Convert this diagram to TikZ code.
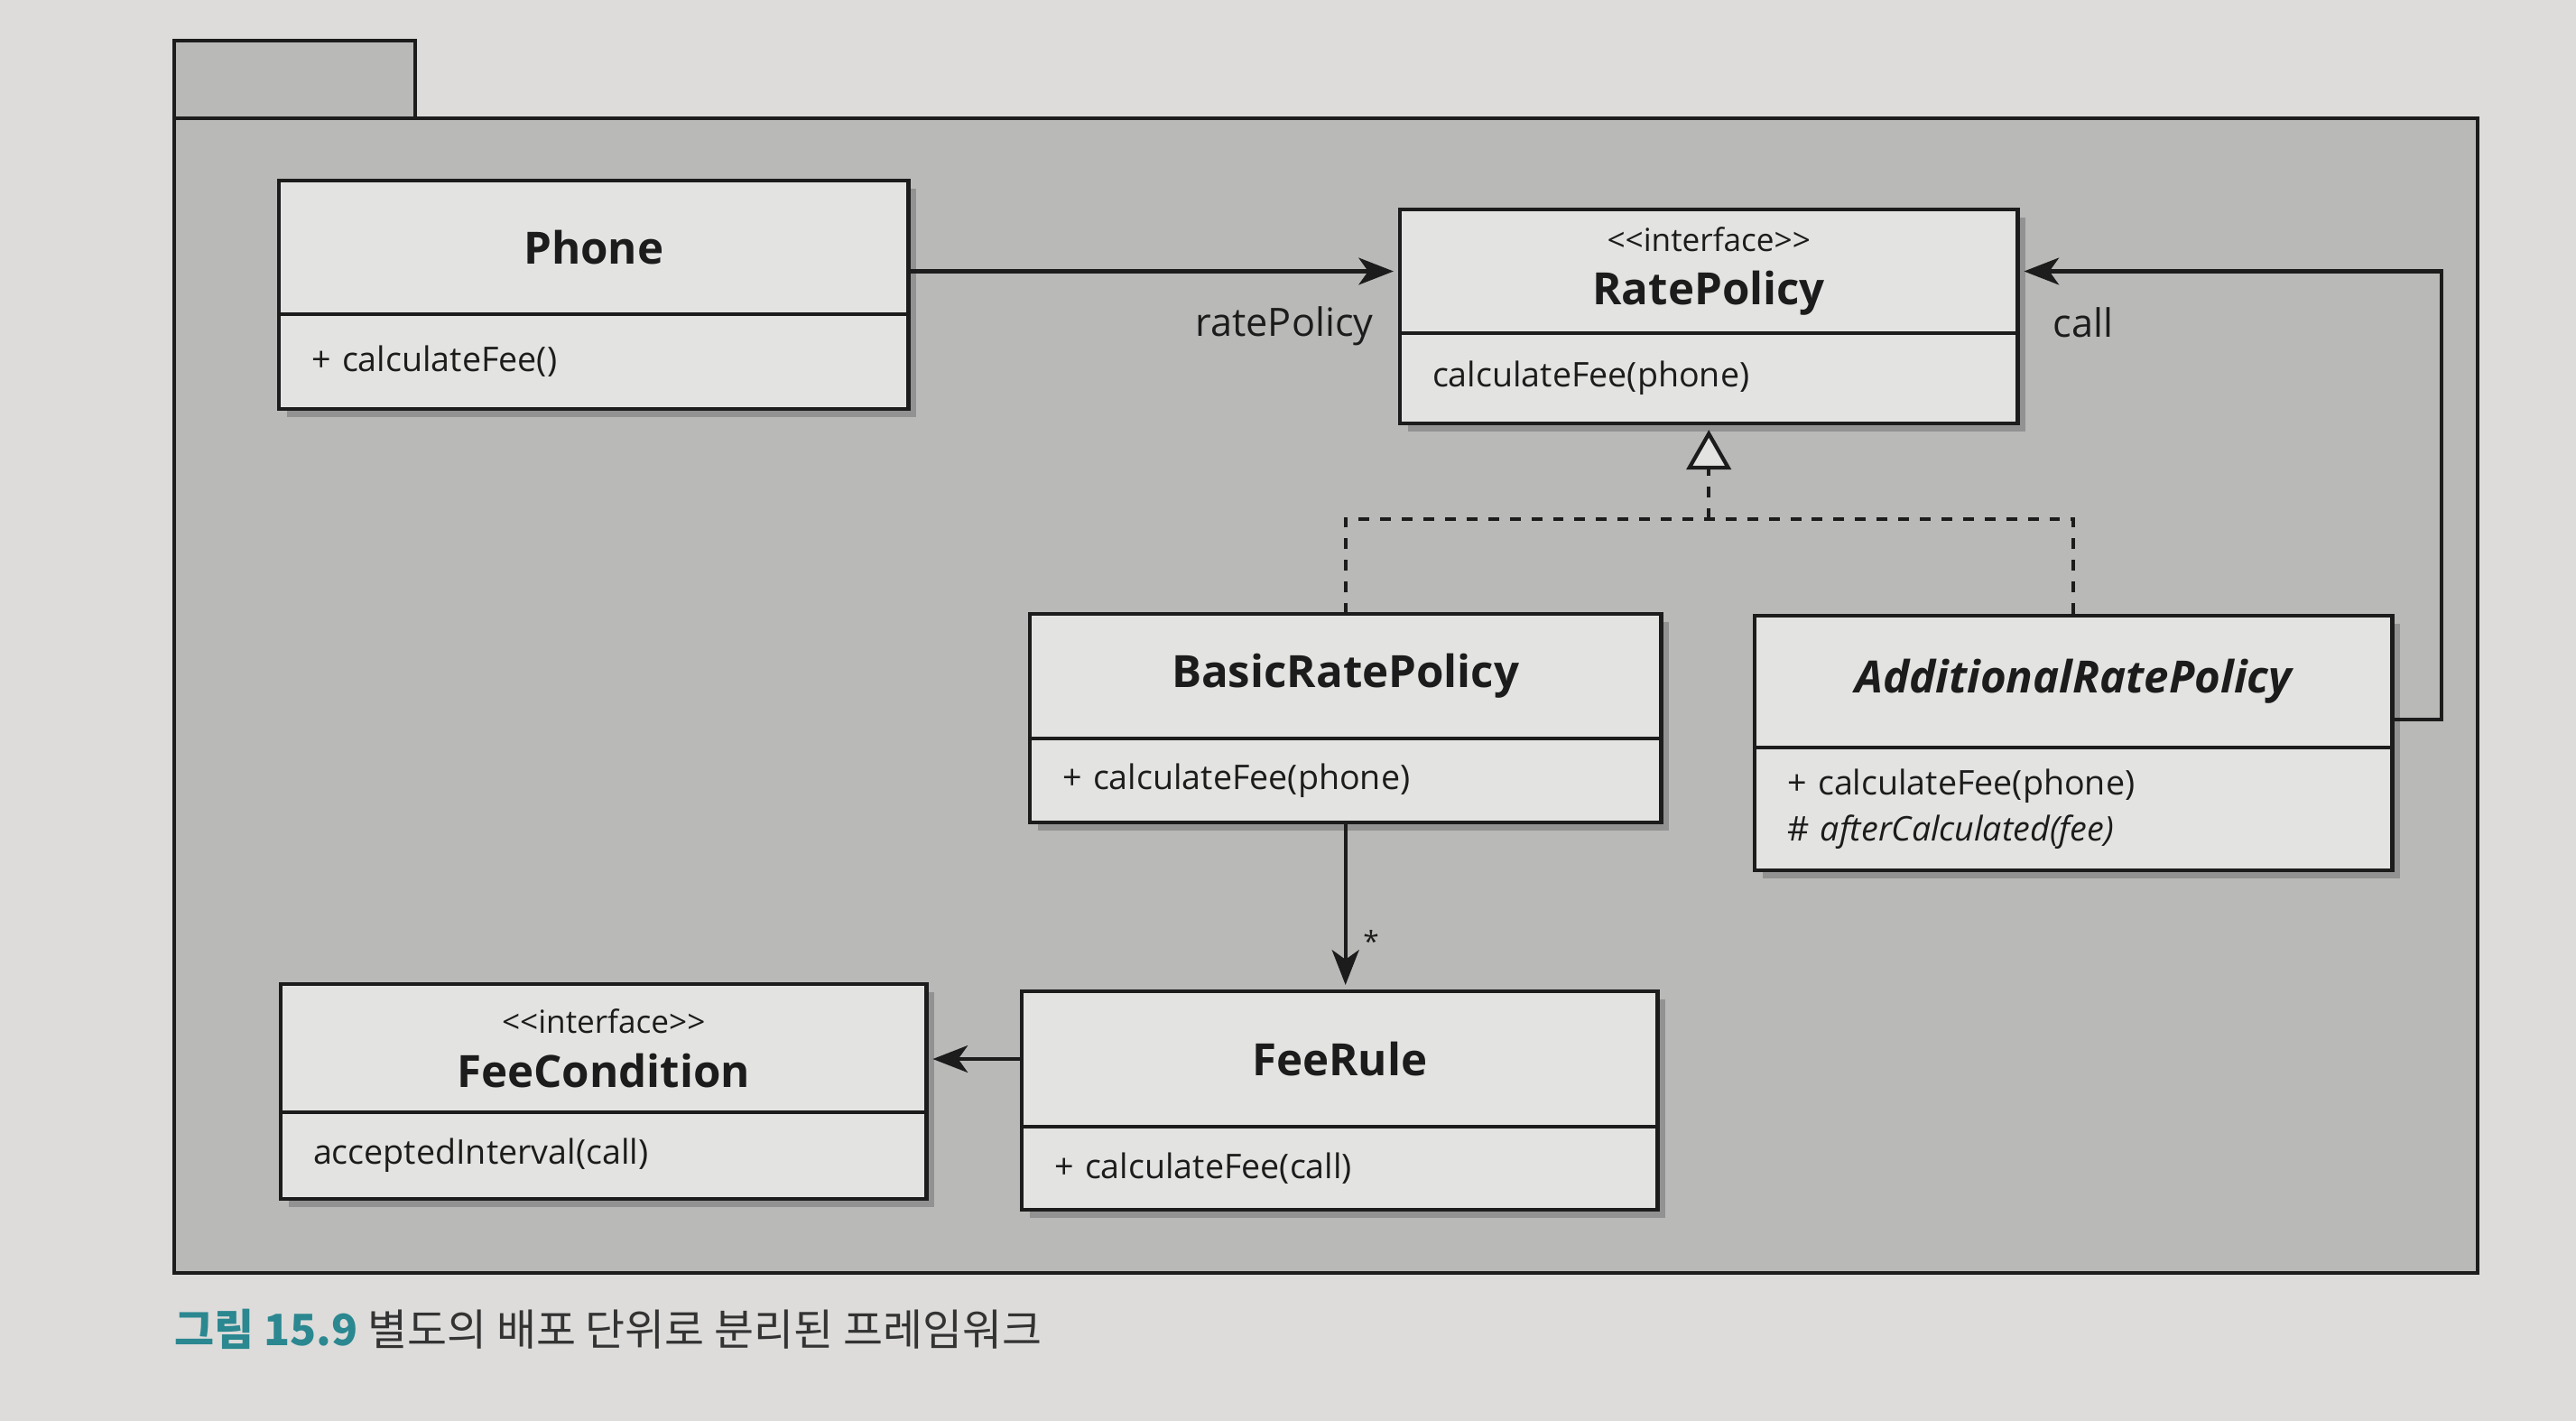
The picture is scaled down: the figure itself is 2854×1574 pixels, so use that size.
\documentclass[tikz,border=0pt]{standalone}
\usepackage{fontspec}
\newfontfamily\uifont{Open Sans}
\newfontfamily\krfont{Noto Sans CJK KR}
\usetikzlibrary{arrows.meta,shadows}
\definecolor{pagebg}{HTML}{DDDCDA}
\definecolor{pkgfill}{HTML}{B9B9B8}
\definecolor{boxfill}{HTML}{E3E3E1}
\definecolor{ink}{HTML}{1C1C1C}
\definecolor{capteal}{HTML}{2B8790}
\definecolor{captext}{HTML}{333333}
\newcommand\stereotxt[1]{{\uifont\mdseries\fontsize{10}{12}\selectfont #1}}
\tikzset{
  pkg/.style={draw=ink, fill=pkgfill, line width=1.1pt},
  boxbase/.style={draw=ink, fill=boxfill, line width=1.2pt, anchor=north west,
    outer sep=0pt, text=ink,
    drop shadow={shadow xshift=2.5pt, shadow yshift=-2.5pt, opacity=.35, fill=black!70}},
  cname/.style={boxbase, inner sep=0pt, align=center,
    font=\uifont\bfseries\fontsize{14}{17}\selectfont},
  cops/.style={boxbase, inner xsep=0.36cm, inner ysep=0pt, align=left,
    font=\uifont\fontsize{10.7}{14.5}\selectfont},
  assoc/.style={draw=ink, line width=1.2pt, -{Stealth[length=11pt, width=8.5pt, inset=3pt]}, shorten >=2pt},
  realize/.style={draw=ink, line width=1.2pt, dash pattern=on 3.4pt off 3.4pt},
  realtip/.style={draw=ink, line width=1.2pt, -{Triangle[open, length=12.5pt, width=14pt, fill=boxfill]}, shorten >=2pt},
  lbl/.style={text=ink, font=\uifont\fontsize{12.3}{14}\selectfont, inner sep=0pt},
}
\begin{document}
\begin{tikzpicture}[x=0.01cm, y=-0.01cm]
  \fill[pagebg] (0,0) rectangle (2854,1574);
  \useasboundingbox (0,0) rectangle (2854,1574);
  % package
  \draw[pkg] (193,45) rectangle (460,131);
  \draw[pkg] (193,131) rectangle (2745,1410);

  % Phone
  \node[cname, minimum width=6.97cm, minimum height=1.48cm] (phoneN) at (309,200) {Phone};
  \node[cops, text width=6.25cm, minimum height=1.05cm] (phoneO) at (phoneN.south west) {+ calculateFee()};

  % RatePolicy
  \node[cname, minimum width=6.84cm, minimum height=1.37cm] (ratepN) at (1551,232)
    {\stereotxt{<<interface>>}\\[0pt]RatePolicy};
  \node[cops, text width=6.12cm, minimum height=1.00cm] (ratepO) at (ratepN.south west) {calculateFee(phone)};

  % BasicRatePolicy
  \node[cname, minimum width=6.99cm, minimum height=1.38cm] (basicN) at (1141,680) {BasicRatePolicy};
  \node[cops, text width=6.27cm, minimum height=0.93cm] (basicO) at (basicN.south west) {+ calculateFee(phone)};

  % AdditionalRatePolicy
  \node[cname, minimum width=7.06cm, minimum height=1.46cm] (addN) at (1944,682) {\itshape AdditionalRatePolicy};
  \node[cops, text width=6.34cm, minimum height=1.36cm] (addO) at (addN.south west)
    {+ calculateFee(phone)\\\# \textit{afterCalculated(fee)}};

  % FeeCondition
  \node[cname, minimum width=7.15cm, minimum height=1.42cm] (fcondN) at (311,1090)
    {\stereotxt{<<interface>>}\\[0pt]FeeCondition};
  \node[cops, text width=6.43cm, minimum height=0.96cm] (fcondO) at (fcondN.south west) {acceptedInterval(call)};

  % FeeRule
  \node[cname, minimum width=7.04cm, minimum height=1.50cm] (fruleN) at (1132,1098) {FeeRule};
  \node[cops, text width=6.32cm, minimum height=0.92cm] (fruleO) at (fruleN.south west) {+ calculateFee(call)};

  % Phone -> RatePolicy
  \draw[assoc] (ratepN.west -| phoneN.east) -- (ratepN.west);
  \node[lbl] (lrate) at (1423,361) {ratePolicy};

  % realization
  \coordinate (jy) at (0,575);
  \coordinate (jn) at (ratepO.south |- jy);
  \draw[realize] (basicN.north) -- (basicN.north |- jy) -- (addN.north |- jy) -- (addN.north);
  \draw[realize] (jn) -- ([yshift=-0.45cm]ratepO.south);
  \draw[realtip] ([yshift=-0.46cm]ratepO.south) -- (ratepO.south);

  % AdditionalRatePolicy -> RatePolicy (call)
  \coordinate (callx) at (2705,0);
  \coordinate (cs) at ([yshift=-0.42cm]addN.east);
  \draw[assoc] (cs) -- (cs -| callx) -- (ratepN.east -| callx) -- (ratepN.east);
  \node[lbl] (lcall) at (2308,357) {call};

  % BasicRatePolicy -> FeeRule
  \draw[assoc] (basicO.south) -- (basicO.south |- fruleN.north);
  \node[text=ink, font=\uifont\fontsize{9}{10}\selectfont, inner sep=0pt] (lstar) at (1519,1042) {*};

  % FeeRule -> FeeCondition
  \draw[assoc] (fruleN.west) -- (fruleN.west -| fcondN.east);

  % caption
  \node[anchor=west, inner sep=0pt, font=\krfont\fontsize{13.6}{15}\selectfont, text=captext] (cap) at (193,1472)
    {{\color{capteal}\bfseries 그림 15.9} 별도의 배포 단위로 분리된 프레임워크};
\end{tikzpicture}
\end{document}
